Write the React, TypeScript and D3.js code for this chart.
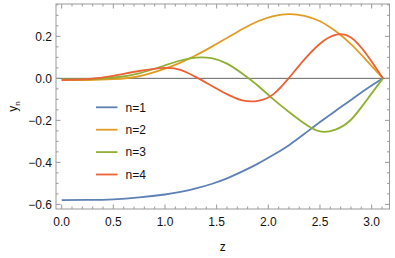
import React from 'react';
import * as d3 from 'd3';

const zGrid = [0, 0.25, 0.5, 0.75, 1.0, 1.15, 1.3, 1.45, 1.6, 1.75, 1.9, 2.05, 2.2, 2.35, 2.5, 2.65, 2.8, 2.95, 3.11];
const y1 = [-0.58, -0.579, -0.576, -0.567, -0.553, -0.541, -0.524, -0.503, -0.476, -0.443, -0.406, -0.364, -0.318, -0.264, -0.208, -0.155, -0.103, -0.051, 0];
const y2 = [-0.008, -0.008, -0.004, 0.01, 0.046, 0.075, 0.11, 0.15, 0.192, 0.235, 0.272, 0.296, 0.306, 0.298, 0.272, 0.225, 0.163, 0.086, 0];
const y3 = [-0.005, -0.004, 0.004, 0.024, 0.062, 0.085, 0.099, 0.096, 0.07, 0.022, -0.035, -0.1, -0.16, -0.215, -0.253, -0.244, -0.197, -0.105, 0];
const y4 = [-0.008, -0.004, 0.012, 0.035, 0.05, 0.04, 0.006, -0.035, -0.075, -0.105, -0.107, -0.075, 0.002, 0.09, 0.165, 0.207, 0.195, 0.115, 0];

const seriesNames = ['n=1', 'n=2', 'n=3', 'n=4'];
const seriesValues = [y1, y2, y3, y4];
const colors = ['#5E81B5', '#E19C24', '#8FB032', '#EB6235'];

const xMajor = [0, 0.5, 1.0, 1.5, 2.0, 2.5, 3.0];
const yMajor = [-0.6, -0.4, -0.2, 0.0, 0.2];

const W = 395;
const H = 258;
const left = 56, right = 389.5, top = 4, bottom = 209;
const font = 'Liberation Sans, Arial, sans-serif';

export default function App() {
  const x = d3.scaleLinear().domain([-0.055, 3.173]).range([left, right]);
  const y = d3.scaleLinear().domain([-0.622, 0.354]).range([bottom, top]);

  const line = d3.line<[number, number]>()
    .x(d => x(d[0]))
    .y(d => y(d[1]))
    .curve(d3.curveNatural);

  const xMinor = d3.range(0, 32).map(i => i / 10).filter(v => !xMajor.some(m => Math.abs(m - v) < 1e-6));
  const yMinor = d3.range(-12, 8).map(i => i / 20).filter(v => !yMajor.some(m => Math.abs(m - v) < 1e-6));
  const fmt = d3.format('.1f');
  const frame = '#999999';

  return (
    <svg width={W} height={H} style={{ position: 'absolute', left: 0, top: 0 }} fontFamily={font}>
      <rect x={0} y={0} width={W} height={H} fill="white" />
      {/* zero line */}
      <line x1={left} x2={right} y1={y(0)} y2={y(0)} stroke="#666" strokeWidth={1} />
      {/* series */}
      {seriesValues.map((vals, i) => (
        <path key={i} d={line(zGrid.map((z, j) => [z, vals[j]]) as [number, number][]) || ''}
          fill="none" stroke={colors[i]} strokeWidth={1.8} />
      ))}
      {/* frame */}
      <rect x={left} y={top} width={right - left} height={bottom - top} fill="none" stroke={frame} strokeWidth={1} />
      {/* x ticks */}
      {xMajor.map(v => (
        <g key={'xm' + v}>
          <line x1={x(v)} x2={x(v)} y1={bottom} y2={bottom - 4.5} stroke={frame} />
          <line x1={x(v)} x2={x(v)} y1={top} y2={top + 4.5} stroke={frame} />
          <text x={x(v)} y={226} fontSize={12} textAnchor="middle" fill="#111">{fmt(v)}</text>
        </g>
      ))}
      {xMinor.map(v => (
        <g key={'xn' + v}>
          <line x1={x(v)} x2={x(v)} y1={bottom} y2={bottom - 2.5} stroke={frame} />
          <line x1={x(v)} x2={x(v)} y1={top} y2={top + 2.5} stroke={frame} />
        </g>
      ))}
      {/* y ticks */}
      {yMajor.map(v => (
        <g key={'ym' + v}>
          <line x1={left} x2={left + 4.5} y1={y(v)} y2={y(v)} stroke={frame} />
          <line x1={right} x2={right - 4.5} y1={y(v)} y2={y(v)} stroke={frame} />
          <text x={52} y={y(v)} dy="0.35em" fontSize={12} textAnchor="end" fill="#111">{fmt(v)}</text>
        </g>
      ))}
      {yMinor.map(v => (
        <g key={'yn' + v}>
          <line x1={left} x2={left + 2.5} y1={y(v)} y2={y(v)} stroke={frame} />
          <line x1={right} x2={right - 2.5} y1={y(v)} y2={y(v)} stroke={frame} />
        </g>
      ))}
      {/* axis labels */}
      <text x={(left + right) / 2} y={251} fontSize={12} textAnchor="middle" fill="#111">z</text>
      <text transform={`translate(17,${(top + bottom) / 2}) rotate(-90)`} fontSize={12} textAnchor="middle" fill="#111">
        y<tspan fontSize={8} dy={3}>n</tspan>
      </text>
      {/* legend */}
      {seriesNames.map((name, i) => (
        <g key={name} transform={`translate(96,${107.3 + i * 22.4})`}>
          <line x1={0} x2={21.5} y1={0} y2={0} stroke={colors[i]} strokeWidth={1.8} />
          <text x={29.5} y={0} dy="0.35em" fontSize={12} fill="#111">{name}</text>
        </g>
      ))}
    </svg>
  );
}
